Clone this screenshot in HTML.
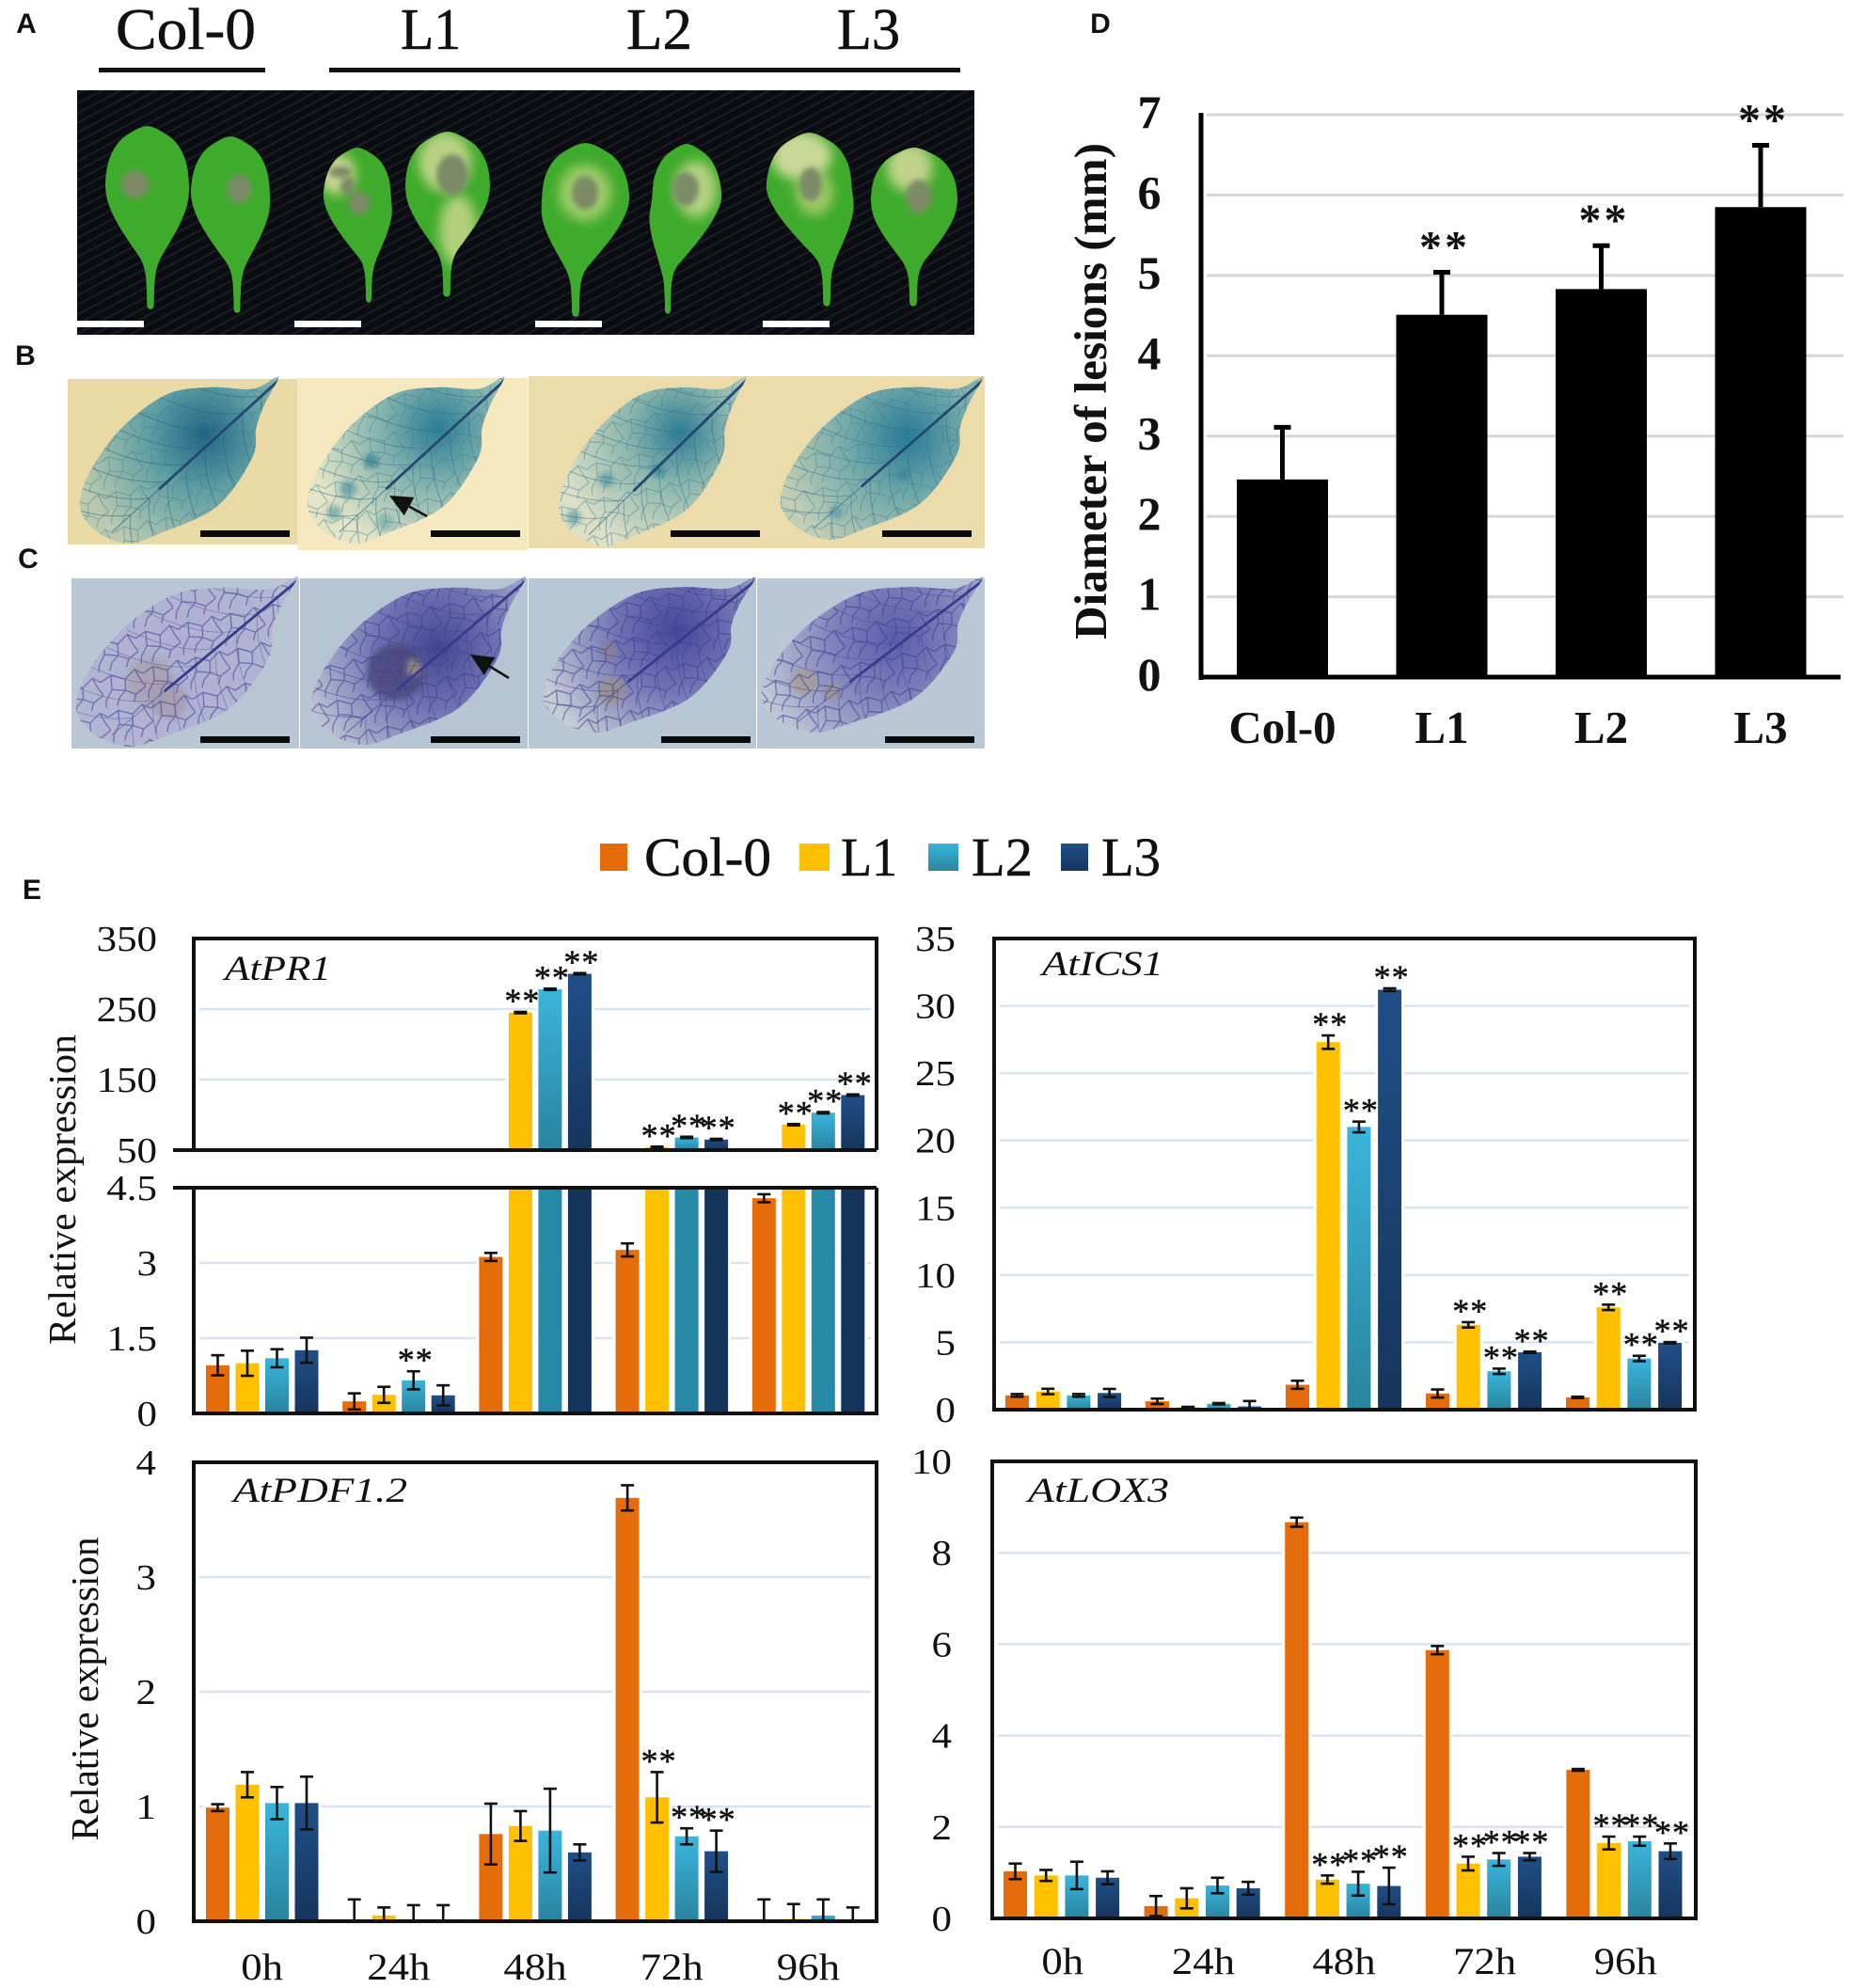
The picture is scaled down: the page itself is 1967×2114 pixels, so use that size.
<!DOCTYPE html>
<html lang="en">
<head>
<meta charset="utf-8">
<title>Lesions and defence gene expression in Col-0 and L1-L3</title>
<style>
html,body{margin:0;padding:0;background:#fff;}
svg{display:block;}
text{font-family:"Liberation Serif",serif;fill:#111;}
.sans{font-family:"Liberation Sans",sans-serif;font-weight:bold;}
</style>
</head>
<body>
<svg id="fig" xmlns="http://www.w3.org/2000/svg" width="1967" height="2114" viewBox="0 0 1967 2114">
  <defs>
    <linearGradient id="gradL2" x1="0" y1="0" x2="0" y2="1"><stop offset="0" stop-color="#3ab5dc"/><stop offset="1" stop-color="#29849d"/></linearGradient>
    <linearGradient id="gradL3" x1="0" y1="0" x2="0" y2="1"><stop offset="0" stop-color="#1f4f88"/><stop offset="1" stop-color="#16355c"/></linearGradient>
    <pattern id="cloth" width="9" height="9" patternUnits="userSpaceOnUse" patternTransform="rotate(-28)">
      <rect width="9" height="9" fill="#0a0c11"/><rect width="9" height="2" fill="#1a1d24"/>
    </pattern>
    <pattern id="netGus" width="46" height="38" patternUnits="userSpaceOnUse" patternTransform="rotate(-12)">
      <path d="M0 10L12 5L26 12L38 4L46 10M12 5L10 20L2 30L0 38M10 20L24 24L26 12M24 24L34 30L46 24M34 30L30 38M38 4L42 16L46 24M12 38L16 30L24 24" fill="none" stroke="#3d7f93" stroke-width="1" stroke-opacity=".5"/>
    </pattern>
    <pattern id="netNbt" width="46" height="38" patternUnits="userSpaceOnUse" patternTransform="rotate(-12)">
      <path d="M0 10L12 5L26 12L38 4L46 10M12 5L10 20L2 30L0 38M10 20L24 24L26 12M24 24L34 30L46 24M34 30L30 38M38 4L42 16L46 24M12 38L16 30L24 24" fill="none" stroke="#3c3f95" stroke-width="1.3" stroke-opacity=".6"/>
    </pattern>
    <filter id="blur6" x="-40%" y="-40%" width="180%" height="180%"><feGaussianBlur stdDeviation="6"/></filter>
    <filter id="blur3" x="-40%" y="-40%" width="180%" height="180%"><feGaussianBlur stdDeviation="3"/></filter>
  </defs>
  <g id="photos"></g>
  <g id="charts"></g>
</svg>
<script>
// ---------- chart data ----------
const timepoints = ['0h', '24h', '48h', '72h', '96h'];
const genotypes = ['Col-0', 'L1', 'L2', 'L3'];

const lesionDiameter = [2.46, 4.51, 4.83, 5.85];
const lesionError = [0.65, 0.53, 0.54, 0.77];
const lesionTicks = ['0', '1', '2', '3', '4', '5', '6', '7'];
const lesionStars = [1, 2, 3];

const pr1Col0 = [0.96, 0.24, 3.12, 3.26, 4.29];
const pr1L1 = [1.0, 0.37, 245, 54, 86];
const pr1L2 = [1.1, 0.66, 278, 68, 103];
const pr1L3 = [1.26, 0.36, 300, 65, 128];
const pr1Col0Err = [0.2, 0.16, 0.08, 0.13, 0.08];
const pr1L1Err = [0.25, 0.16, 1, 1, 1];
const pr1L2Err = [0.18, 0.18, 1, 1, 1];
const pr1L3Err = [0.25, 0.2, 1, 1, 1];
const pr1UpperTicks = ['50', '150', '250', '350'];
const pr1LowerTicks = ['0', '1.5', '3', '4.5'];
const pr1Stars = [[1, 2], [2, 1], [2, 2], [2, 3], [3, 1], [3, 2], [3, 3], [4, 1], [4, 2], [4, 3]];

const ics1Col0 = [1.06, 0.62, 1.85, 1.2, 0.91];
const ics1L1 = [1.35, 0.18, 27.3, 6.3, 7.6];
const ics1L2 = [1.06, 0.44, 21, 2.85, 3.8];
const ics1L3 = [1.24, 0.24, 31.2, 4.26, 4.97];
const ics1Col0Err = [0.1, 0.2, 0.3, 0.3, 0.05];
const ics1L1Err = [0.2, 0.03, 0.5, 0.2, 0.2];
const ics1L2Err = [0.1, 0.05, 0.4, 0.2, 0.2];
const ics1L3Err = [0.3, 0.4, 0.1, 0.05, 0.05];
const ics1Ticks = ['0', '5', '10', '15', '20', '25', '30', '35'];
const ics1Stars = [[2, 1], [2, 2], [2, 3], [3, 1], [3, 2], [3, 3], [4, 1], [4, 2], [4, 3]];

const pdfCol0 = [0.99, 0, 0.76, 3.69, 0];
const pdfL1 = [1.19, 0.05, 0.83, 1.08, 0.02];
const pdfL2 = [1.03, 0, 0.79, 0.74, 0.05];
const pdfL3 = [1.03, 0, 0.6, 0.61, 0];
const pdfCol0Err = [0.03, 0.19, 0.265, 0.11, 0.19];
const pdfL1Err = [0.11, 0.07, 0.13, 0.22, 0.13];
const pdfL2Err = [0.14, 0.14, 0.365, 0.07, 0.14];
const pdfL3Err = [0.23, 0.14, 0.07, 0.18, 0.12];
const pdfTicks = ['0', '1', '2', '3', '4'];
const pdfStars = [[3, 1], [3, 2], [3, 3]];

const loxCol0 = [1.03, 0.27, 8.67, 5.87, 3.25];
const loxL1 = [0.94, 0.44, 0.85, 1.2, 1.65];
const loxL2 = [0.94, 0.72, 0.76, 1.29, 1.69];
const loxL3 = [0.89, 0.66, 0.71, 1.35, 1.47];
const loxCol0Err = [0.17, 0.22, 0.1, 0.09, 0.02];
const loxL1Err = [0.12, 0.22, 0.09, 0.15, 0.14];
const loxL2Err = [0.3, 0.17, 0.26, 0.14, 0.1];
const loxL3Err = [0.14, 0.14, 0.4, 0.08, 0.17];
const loxTicks = ['0', '2', '4', '6', '8', '10'];
const loxStars = [[2, 1], [2, 2], [2, 3], [3, 1], [3, 2], [3, 3], [4, 1], [4, 2], [4, 3]];

// ---------- helpers ----------
const NS = 'http://www.w3.org/2000/svg';
const seriesFill = ['#e46c0a', '#ffc000', 'url(#gradL2)', 'url(#gradL3)'];
const GRID = '#d9e3f2';

function add(parent, tag, attrs, name, text) {
  const el = document.createElementNS(NS, tag);
  for (const k in attrs) el.setAttribute(k, attrs[k]);
  
  
  if (text !== undefined) el.textContent = text;
  parent.appendChild(el);
  return el;
}
function stretched(parent, x, y, stretch, size, anchor, str, name) {
  return add(parent, 'text', {transform: 'translate(' + x + ' ' + y + ') scale(' + stretch + ' 1)', 'font-size': size, 'text-anchor': anchor}, name, str);
}
function smooth(p) {
  let d = 'M' + p[0][0] + ' ' + p[0][1];
  const n = p.length;
  for (let i = 0; i < n; i++) {
    const a = p[(i - 1 + n) % n], b = p[i], c = p[(i + 1) % n], e = p[(i + 2) % n];
    d += 'C' + (b[0] + (c[0] - a[0]) / 6) + ' ' + (b[1] + (c[1] - a[1]) / 6) + ' ' + (c[0] - (e[0] - b[0]) / 6) + ' ' + (c[1] - (e[1] - b[1]) / 6) + ' ' + c[0] + ' ' + c[1];
  }
  return d + 'Z';
}

// ---------- photo panels ----------
const photos = document.getElementById('photos');
const defs = document.querySelector('defs');

function panelLetter(x, y, s) {
  add(photos, 'text', {x: x, y: y, 'font-size': 30, 'text-anchor': 'middle', 'class': 'sans'}, 'panel-label-' + s.toLowerCase(), s);
}
panelLetter(28, 35, 'A');
panelLetter(27, 388, 'B');
panelLetter(30, 604, 'C');
panelLetter(1170, 35, 'D');
panelLetter(34, 956, 'E');

function header(x, len, s) {
  add(photos, 'text', {x: x, y: 52, 'font-size': 62, textLength: len, lengthAdjust: 'spacingAndGlyphs', stroke: '#111', 'stroke-width': .6}, 'genotype-header-' + s.toLowerCase(), s);
}
header(123, 149, 'Col-0');
header(426, 64, 'L1');
header(666, 70, 'L2');
header(890, 67, 'L3');
add(photos, 'rect', {x: 105, y: 72, width: 177, height: 5, fill: '#111'}, 'col-0-underline');
add(photos, 'rect', {x: 350, y: 72, width: 671, height: 5, fill: '#111'}, 'transgenic-lines-underline');

add(photos, 'rect', {x: 82, y: 96, width: 954, height: 260, fill: 'url(#cloth)'}, 'panel-a-photo');
const leafProfile = [[0, 0], [.04, .42], [.1, .72], [.2, .93], [.33, 1], [.44, .93], [.55, .72], [.65, .46], [.74, .22], [.82, .12], [.92, .09], [1, .07]];
const leavesA = [
  {l: 112, r: 201, t: 134, b: 327, sx: 160, spots: []},
  {l: 203, r: 287, t: 145, b: 331, sx: 252, spots: []},
  {l: 344, r: 416, t: 157, b: 320, sx: 392, spots: [[358, 185, 20, 22, '#d5d99c']]},
  {l: 431, r: 521, t: 140, b: 314, sx: 475, spots: [[473, 172, 28, 32, '#c8d58f'], [487, 245, 20, 38, '#bfd486']]},
  {l: 576, r: 669, t: 152, b: 335, sx: 612, spots: [[622, 205, 28, 30, '#a9cf72']]},
  {l: 693, r: 767, t: 153, b: 332, sx: 710, spots: [[740, 201, 22, 30, '#c2d58a']]},
  {l: 815, r: 906, t: 141, b: 324, sx: 879, spots: [[852, 166, 32, 26, '#dbdea5'], [866, 205, 20, 24, '#a9cc70']]},
  {l: 926, r: 1018, t: 157, b: 324, sx: 971, spots: [[967, 178, 24, 26, '#cfd896']]}
];
const lesionsA = [
  [[144, 196, 15, 15]], [[254, 201, 13, 15]], [[362, 183, 12, 6], [370, 198, 8, 10], [382, 216, 12, 12]],
  [[481, 186, 17, 22]], [[622, 205, 14, 18]], [[729, 201, 14, 18]], [[862, 196, 12, 18]], [[977, 209, 14, 18]]
];
leavesA.forEach(function (f, i) {
  const mid = (f.l + f.r) / 2, half = (f.r - f.l) / 2, H = f.b - f.t;
  const centre = function (fr) { return fr < .33 ? mid : mid + (f.sx - mid) * Math.min(1, (fr - .33) / .42); };
  const right = leafProfile.map(function (p) { return [centre(p[0]) + p[1] * half, f.t + p[0] * H]; });
  const left = leafProfile.slice(1).reverse().map(function (p) { return [centre(p[0]) - p[1] * half, f.t + p[0] * H]; });
  const d = smooth(right.concat(left));
  const clip = document.createElementNS(NS, 'clipPath');
  clip.setAttribute('id', 'clipA' + i);
  const cp = document.createElementNS(NS, 'path');
  cp.setAttribute('d', d);
  clip.appendChild(cp);
  defs.appendChild(clip);
  const g = add(photos, 'g', {'clip-path': 'url(#clipA' + i + ')'}, 'infected-leaf-' + (i + 1));
  add(g, 'path', {d: d, fill: '#3fab2c'}, 'leaf-blade');
  f.spots.forEach(function (s) {
    add(g, 'ellipse', {cx: s[0], cy: s[1], rx: s[2], ry: s[3], fill: s[4], filter: 'url(#blur6)', opacity: .9}, 'chlorotic-patch');
  });
  lesionsA[i].forEach(function (s) {
    add(g, 'ellipse', {cx: s[0], cy: s[1], rx: s[2], ry: s[3], fill: '#7b8a66', filter: 'url(#blur3)'}, 'lesion');
  });
});
[[82, 341], [313, 341], [569, 341], [811, 341]].forEach(function (p) {
  add(photos, 'rect', {x: p[0], y: p[1], width: 71, height: 7, fill: '#fff'}, 'scale-bar-a');
});

add(photos, 'rect', {x: 72, y: 403, width: 244, height: 176, fill: '#e9daa6'}, 'panel-b-photo-1');
add(photos, 'rect', {x: 316, y: 402, width: 245, height: 183, fill: '#f6e9c0'}, 'panel-b-photo-2');
add(photos, 'rect', {x: 562, y: 400, width: 485, height: 183, fill: '#ecdcab'}, 'panel-b-photo-3');
add(photos, 'rect', {x: 76, y: 615, width: 242, height: 181, fill: '#b9c7d4'}, 'panel-c-photo-1');
add(photos, 'rect', {x: 319, y: 615, width: 242, height: 181, fill: '#b6c5d3'}, 'panel-c-photo-2');
add(photos, 'rect', {x: 562, y: 615, width: 242, height: 181, fill: '#b8c7d4'}, 'panel-c-photo-3');
add(photos, 'rect', {x: 805, y: 615, width: 242, height: 181, fill: '#bac8d5'}, 'panel-c-photo-4');

const outline = [[.99, 0], [.92, .16], [.88, .3], [.86, .48], [.683, .776], [.397, .94], [.238, 1], [.08, .925], [0, .776], [.048, .567], [.206, .3], [.43, .095], [.65, .05], [.86, .06], [.97, -.005]];
const stainedLeaves = [
  {x: 85, y: 403, w: 213, h: 175, cx: .62, cy: .34, core: '#1f6484', mid: '#5f9ea3', outer: '#bccbb0', vein: '#2a5f80', n: 'gus', net: 'url(#netGus)', blobs: []},
  {x: 327, y: 403, w: 211, h: 175, cx: .66, cy: .3, core: '#2a7d95', mid: '#7fb0ac', outer: '#e3e5c6', vein: '#2f6f8d', n: 'gus', net: 'url(#netGus)', blobs: [[370, 520, 9, '#5c9ba5'], [355, 545, 8, '#6da5a8'], [395, 490, 8, '#3b8399'], [410, 555, 9, '#7fb0ac']]},
  {x: 594, y: 403, w: 201, h: 178, cx: .64, cy: .32, core: '#2d7c94', mid: '#8cb6ad', outer: '#dde0c6', vein: '#2f6f8d', n: 'gus', net: 'url(#netGus)', blobs: [[645, 510, 8, '#5c9ba5'], [610, 550, 8, '#6da5a8'], [700, 500, 7, '#3b8399']]},
  {x: 830, y: 403, w: 217, h: 171, cx: .62, cy: .36, core: '#277a96', mid: '#6fa7a9', outer: '#c3cfb5', vein: '#2f6f8d', n: 'gus', net: 'url(#netGus)', blobs: [[890, 545, 7, '#5c9ba5'], [960, 505, 6, '#3b8399']]},
  {x: 81, y: 616, w: 237, h: 178, cx: .5, cy: .5, core: '#aeb0d2', mid: '#b0b3d2', outer: '#b4b9d2', vein: '#5d5fa9', n: 'nbt', net: 'url(#netNbt)', blobs: [[160, 725, 26, '#a9a1b0'], [180, 745, 20, '#a59cac']]},
  {x: 331, y: 616, w: 230, h: 176, cx: .58, cy: .42, core: '#42468f', mid: '#6e72b2', outer: '#c2c8d4', vein: '#3f4396', n: 'nbt', net: 'url(#netNbt)', blobs: [[420, 715, 30, '#4a4678'], [440, 710, 9, '#a2917f']]},
  {x: 578, y: 616, w: 227, h: 163, cx: .62, cy: .33, core: '#44479a', mid: '#6f73b3', outer: '#c6ccd4', vein: '#3f4396', n: 'nbt', net: 'url(#netNbt)', blobs: [[650, 735, 14, '#9c8f85'], [647, 693, 9, '#8d7f8e']]},
  {x: 810, y: 616, w: 237, h: 163, cx: .6, cy: .38, core: '#585ca8', mid: '#7d82bb', outer: '#c6ccd6', vein: '#474b9c', n: 'nbt', net: 'url(#netNbt)', blobs: [[855, 725, 14, '#a89c90'], [885, 735, 9, '#a0948e']]}
];
stainedLeaves.forEach(function (f, i) {
  const pts = outline.map(function (p) { return [f.x + p[0] * f.w, f.y + p[1] * f.h]; });
  const d = smooth(pts);
  const grad = document.createElementNS(NS, 'radialGradient');
  grad.setAttribute('id', 'stain' + i);
  grad.setAttribute('gradientUnits', 'userSpaceOnUse');
  grad.setAttribute('cx', f.x + f.cx * f.w);
  grad.setAttribute('cy', f.y + f.cy * f.h);
  grad.setAttribute('r', f.w * 0.66);
  [[0, f.core], [0.42, f.mid], [1, f.outer]].forEach(function (s) {
    const st = document.createElementNS(NS, 'stop');
    st.setAttribute('offset', s[0]);
    st.setAttribute('stop-color', s[1]);
    grad.appendChild(st);
  });
  defs.appendChild(grad);
  const clip = document.createElementNS(NS, 'clipPath');
  clip.setAttribute('id', 'clipS' + i);
  const cp = document.createElementNS(NS, 'path');
  cp.setAttribute('d', d);
  clip.appendChild(cp);
  defs.appendChild(clip);
  const g = add(photos, 'g', {'clip-path': 'url(#clipS' + i + ')'}, f.n + '-stained-leaf-' + (i % 4 + 1));
  add(g, 'path', {d: d, fill: 'url(#stain' + i + ')'}, 'leaf-blade');
  f.blobs.forEach(function (b) {
    add(g, 'circle', {cx: b[0], cy: b[1], r: b[2], fill: b[3], filter: 'url(#blur3)', opacity: .8}, 'stain-blotch');
  });
  add(g, 'path', {d: d, fill: f.net}, 'vein-network');
  const sx = f.x + f.w, sy = f.y, ex = f.x + 0.16 * f.w, ey = f.y + 0.93 * f.h;
  for (let k = 1; k < 9; k++) {
    const t = k / 9, px = sx + (ex - sx) * t, py = sy + (ey - sy) * t;
    add(g, 'path', {d: 'M' + px + ' ' + py + 'Q' + (px - 40) + ' ' + (py + 6) + ' ' + (px - 95) + ' ' + (py - 20), stroke: f.vein, 'stroke-width': 1, 'stroke-opacity': .5, fill: 'none'}, 'side-vein');
    add(g, 'path', {d: 'M' + px + ' ' + py + 'Q' + (px - 4) + ' ' + (py + 40) + ' ' + (px + 28) + ' ' + (py + 95), stroke: f.vein, 'stroke-width': 1, 'stroke-opacity': .5, fill: 'none'}, 'side-vein');
  }
  const mt = 0.72;
  add(g, 'line', {x1: sx, y1: sy, x2: sx + (ex - sx) * mt, y2: sy + (ey - sy) * mt, stroke: f.n === 'gus' ? '#25476f' : '#383a8c', 'stroke-width': 2.8}, 'midrib');
  add(g, 'line', {x1: sx + (ex - sx) * mt, y1: sy + (ey - sy) * mt, x2: ex, y2: ey, stroke: f.vein, 'stroke-width': 1.2, 'stroke-opacity': .6}, 'midrib-tip');
});
[[213, 564], [458, 564], [713, 564], [938, 564], [213, 783], [458, 783], [703, 783], [941, 783]].forEach(function (p) {
  add(photos, 'rect', {x: p[0], y: p[1], width: 95, height: 7, fill: '#0a0a0a'}, 'scale-bar');
});
function arrow(x1, y1, x2, y2, name) {
  const a = Math.atan2(y2 - y1, x2 - x1), h = 24;
  const bx = x2 - Math.cos(a) * h, by = y2 - Math.sin(a) * h, nx = -Math.sin(a) * 11, ny = Math.cos(a) * 11;
  const g = add(photos, 'g', {}, name);
  add(g, 'line', {x1: x1, y1: y1, x2: bx, y2: by, stroke: '#111', 'stroke-width': 2.5}, 'arrow-shaft');
  add(g, 'path', {d: 'M' + x2 + ' ' + y2 + 'L' + (bx + nx) + ' ' + (by + ny) + 'L' + (bx - nx) + ' ' + (by - ny) + 'Z', fill: '#111'}, 'arrow-head');
}
arrow(454, 549, 414, 527, 'panel-b-arrow');
arrow(541, 721, 500, 696, 'panel-c-arrow');

// ---------- panel D ----------
const charts = document.getElementById('charts');
const D = {left: 1277, right: 1957, top: 122, bottom: 720, max: 7, barStart: 1315, barW: 97, step: 169.5};
const dY = function (v) { return D.bottom - v / D.max * (D.bottom - D.top); };
const dX = function (i) { return D.barStart + i * D.step; };
const gD = add(charts, 'g', {}, 'lesion-diameter-chart');
lesionTicks.forEach(function (t) {
  const v = Number(t);
  if (v > 0) add(gD, 'line', {x1: D.left + 6, x2: 1960, y1: dY(v), y2: dY(v), stroke: '#d6d6d6', 'stroke-width': 3}, 'gridline-' + t);
  add(gD, 'text', {x: 1222, y: dY(v) + 14, 'font-size': 50, 'font-weight': 'bold', 'text-anchor': 'middle'}, 'y-tick-label-' + t, t);
});
genotypes.forEach(function (n, i) {
  const cx = dX(i) + D.barW / 2;
  add(gD, 'rect', {x: dX(i), y: dY(lesionDiameter[i]), width: D.barW, height: D.bottom - dY(lesionDiameter[i]), fill: '#000'}, 'bar-' + n.toLowerCase());
  const top = dY(lesionDiameter[i] + lesionError[i]);
  add(gD, 'line', {x1: cx, x2: cx, y1: top, y2: dY(lesionDiameter[i]), stroke: '#000', 'stroke-width': 5}, 'error-bar-' + n.toLowerCase());
  add(gD, 'line', {x1: cx - 9, x2: cx + 9, y1: top, y2: top, stroke: '#000', 'stroke-width': 5}, 'error-cap-' + n.toLowerCase());
  add(gD, 'text', {x: cx, y: 790, 'font-size': 49, 'font-weight': 'bold', 'text-anchor': 'middle'}, 'x-label-' + n.toLowerCase(), n);
  if (lesionStars.indexOf(i) >= 0) {
    add(gD, 'text', {x: cx + 3, y: top - 11, 'font-size': 48, 'font-weight': 'bold', 'text-anchor': 'middle', 'letter-spacing': 3}, 'significance-' + n.toLowerCase(), '**');
  }
});
add(gD, 'line', {x1: D.left, x2: D.left, y1: D.top - 2, y2: D.bottom + 3, stroke: '#000', 'stroke-width': 5}, 'y-axis');
add(gD, 'line', {x1: D.left - 2, x2: D.right, y1: D.bottom, y2: D.bottom, stroke: '#000', 'stroke-width': 5}, 'x-axis');
add(gD, 'text', {transform: 'translate(1176 416) rotate(-90)', 'font-size': 49, 'font-weight': 'bold', 'text-anchor': 'middle', textLength: 528, lengthAdjust: 'spacingAndGlyphs', x: 0, y: 0}, 'y-axis-title', 'Diameter of lesions (mm)');

// ---------- legend ----------
const legendG = add(charts, 'g', {}, 'legend');
[[638, 29, 685, 135], [850, 32, 894, 60], [987, 32, 1033, 65], [1128, 29, 1171, 63]].forEach(function (p, i) {
  add(legendG, 'rect', {x: p[0], y: 897, width: p[1], height: 29, fill: seriesFill[i]}, 'legend-swatch-' + genotypes[i].toLowerCase());
  add(legendG, 'text', {x: p[2], y: 931, 'font-size': 58, textLength: p[3], lengthAdjust: 'spacingAndGlyphs', stroke: '#111', 'stroke-width': .5}, 'legend-label-' + genotypes[i].toLowerCase(), genotypes[i]);
});

// ---------- panel E ----------
function layout(left, right, pad, step, barW) {
  return {left: left, right: right, pad: pad, step: step, barW: barW, band: (right - left) / 5};
}
function barX(L, g, s) { return L.left + L.band * g + L.pad + s * L.step; }
function drawBar(g, L, gi, si, top, bottom, fill, name) {
  const x = barX(L, gi, si);
  add(g, 'rect', {x: x - 3, y: top - 3, width: L.barW + 6, height: bottom - top + 3, fill: '#fff'}, name + '-halo');
  add(g, 'rect', {x: x, y: top, width: L.barW, height: bottom - top, fill: fill}, name);
}
function drawErr(g, L, gi, si, yHi, yLo, name) {
  const cx = barX(L, gi, si) + L.barW / 2;
  add(g, 'line', {x1: cx, x2: cx, y1: yHi, y2: yLo, stroke: '#111', 'stroke-width': 2.6}, name);
  add(g, 'line', {x1: cx - 7, x2: cx + 7, y1: yHi, y2: yHi, stroke: '#111', 'stroke-width': 2.6}, name + '-top-cap');
  add(g, 'line', {x1: cx - 7, x2: cx + 7, y1: yLo, y2: yLo, stroke: '#111', 'stroke-width': 2.6}, name + '-bottom-cap');
}
function drawStar(g, L, gi, si, y, name) {
  add(g, 'text', {x: barX(L, gi, si) + L.barW / 2 + 2, y: y + 16, 'font-size': 36, 'text-anchor': 'middle', 'letter-spacing': 1, stroke: '#111', 'stroke-width': .5}, name, '**');
}
function frame(g, L, top, bottom, name) {
  add(g, 'rect', {x: L.left, y: top, width: L.right - L.left, height: bottom - top, fill: 'none', stroke: '#111', 'stroke-width': 4}, name);
}
function xLabels(g, L, y) {
  timepoints.forEach(function (t, i) {
    stretched(g, L.left + L.band * (i + .5), y, 1.12, 40, 'middle', t, 'x-label-' + t);
  });
}

function simpleChart(opt) {
  const g = add(charts, 'g', {}, opt.name);
  const L = opt.L;
  const y = function (v) { return opt.bottom - v / opt.max * (opt.bottom - opt.top); };
  opt.ticks.forEach(function (t) {
    const v = Number(t);
    if (v > 0 && v < opt.max) add(g, 'line', {x1: L.left + 6, x2: L.right - 6, y1: y(v), y2: y(v), stroke: GRID, 'stroke-width': 2.5}, 'gridline-' + t);
    stretched(g, opt.tickX, y(v) + 13, 1.13, 38, 'end', t, 'y-tick-label-' + t);
  });
  opt.series.forEach(function (vals, s) {
    vals.forEach(function (v, i) {
      drawBar(g, L, i, s, y(v), opt.bottom, seriesFill[s], 'bar-' + genotypes[s].toLowerCase() + '-' + timepoints[i]);
    });
  });
  opt.series.forEach(function (vals, s) {
    vals.forEach(function (v, i) {
      const e = opt.errs[s][i];
      drawErr(g, L, i, s, y(v + e), y(Math.max(0, v - e)), 'error-bar-' + genotypes[s].toLowerCase() + '-' + timepoints[i]);
    });
  });
  frame(g, L, opt.top, opt.bottom, 'plot-frame');
  opt.stars.forEach(function (st) {
    const v = opt.series[st[1]][st[0]], e = opt.errs[st[1]][st[0]];
    drawStar(g, L, st[0], st[1], y(v + e) - 16, 'significance-' + genotypes[st[1]].toLowerCase() + '-' + timepoints[st[0]]);
  });
  add(g, 'text', {x: opt.geneX, y: opt.geneY, 'font-size': 37, 'font-style': 'italic', textLength: opt.geneLen, lengthAdjust: 'spacingAndGlyphs'}, 'gene-label', opt.gene);
  if (opt.labelY) xLabels(g, L, opt.labelY);
  if (opt.titleX) add(g, 'text', {transform: 'translate(' + opt.titleX + ' ' + opt.titleY + ') rotate(-90)', x: 0, y: 0, 'font-size': 41, 'text-anchor': 'middle', textLength: opt.titleLen, lengthAdjust: 'spacingAndGlyphs'}, 'y-axis-title', 'Relative expression');
}

// AtPR1 has a broken axis, drawn as two stacked plots.
(function () {
  const g = add(charts, 'g', {}, 'atpr1-chart');
  const L = layout(206, 932, 13, 31.5, 25);
  const upTop = 998, upBottom = 1223, lowTop = 1263, lowBottom = 1503;
  const yUp = function (v) { return upBottom - (v - 50) / 300 * (upBottom - upTop); };
  const yLow = function (v) { return lowBottom - v / 4.5 * (lowBottom - lowTop); };
  const series = [pr1Col0, pr1L1, pr1L2, pr1L3];
  const errs = [pr1Col0Err, pr1L1Err, pr1L2Err, pr1L3Err];
  const lowFill = ['#e46c0a', '#ffc000', '#268aa6', '#14345c'];
  pr1UpperTicks.forEach(function (t) {
    const v = Number(t);
    if (v > 50 && v < 350) add(g, 'line', {x1: L.left + 6, x2: L.right - 6, y1: yUp(v), y2: yUp(v), stroke: GRID, 'stroke-width': 2.5}, 'gridline-' + t);
    stretched(g, 167, yUp(v) + 13, 1.13, 38, 'end', t, 'y-tick-label-' + t);
  });
  pr1LowerTicks.forEach(function (t) {
    const v = Number(t);
    if (v > 0 && v < 4.5) add(g, 'line', {x1: L.left + 6, x2: L.right - 6, y1: yLow(v), y2: yLow(v), stroke: GRID, 'stroke-width': 2.5}, 'gridline-' + t);
    stretched(g, 167, yLow(v) + 13, 1.13, 38, 'end', t, 'y-tick-label-' + t);
  });
  series.forEach(function (vals, s) {
    vals.forEach(function (v, i) {
      const base = 'bar-' + genotypes[s].toLowerCase() + '-' + timepoints[i];
      if (v > 4.5) {
        drawBar(g, L, i, s, lowTop, lowBottom, lowFill[s], base + '-lower');
        drawBar(g, L, i, s, yUp(v), upBottom, seriesFill[s], base + '-upper');
      } else {
        drawBar(g, L, i, s, yLow(v), lowBottom, seriesFill[s], base);
      }
    });
  });
  series.forEach(function (vals, s) {
    vals.forEach(function (v, i) {
      const e = errs[s][i];
      const y = v > 4.5 ? yUp : yLow;
      drawErr(g, L, i, s, y(v + e), y(Math.max(0, v - e)), 'error-bar-' + genotypes[s].toLowerCase() + '-' + timepoints[i]);
    });
  });
  add(g, 'path', {d: 'M' + L.left + ' ' + upBottom + 'V' + upTop + 'H' + L.right + 'V' + upBottom, fill: 'none', stroke: '#111', 'stroke-width': 4}, 'upper-frame');
  add(g, 'line', {x1: 184, x2: L.right, y1: upBottom, y2: upBottom, stroke: '#111', 'stroke-width': 4}, 'upper-axis-break-line');
  add(g, 'path', {d: 'M' + L.left + ' ' + lowTop + 'V' + lowBottom + 'H' + L.right + 'V' + lowTop, fill: 'none', stroke: '#111', 'stroke-width': 4}, 'lower-frame');
  add(g, 'line', {x1: 184, x2: L.right, y1: lowTop, y2: lowTop, stroke: '#111', 'stroke-width': 4}, 'lower-axis-break-line');
  pr1Stars.forEach(function (st) {
    const v = series[st[1]][st[0]], e = errs[st[1]][st[0]];
    const y = v > 4.5 ? yUp : yLow;
    drawStar(g, L, st[0], st[1], y(v + e) - 16, 'significance-' + genotypes[st[1]].toLowerCase() + '-' + timepoints[st[0]]);
  });
  add(g, 'text', {x: 239, y: 1042, 'font-size': 37, 'font-style': 'italic', textLength: 113, lengthAdjust: 'spacingAndGlyphs'}, 'gene-label', 'AtPR1');
  add(g, 'text', {transform: 'translate(80 1265) rotate(-90)', x: 0, y: 0, 'font-size': 41, 'text-anchor': 'middle', textLength: 330, lengthAdjust: 'spacingAndGlyphs'}, 'y-axis-title', 'Relative expression');
})();

simpleChart({
  name: 'atics1-chart', gene: 'AtICS1', geneX: 1108, geneY: 1037, geneLen: 129,
  L: layout(1057, 1802, 12, 32.7, 25), top: 998, bottom: 1499, max: 35, ticks: ics1Ticks, tickX: 1016,
  series: [ics1Col0, ics1L1, ics1L2, ics1L3], errs: [ics1Col0Err, ics1L1Err, ics1L2Err, ics1L3Err], stars: ics1Stars
});
simpleChart({
  name: 'atpdf1-2-chart', gene: 'AtPDF1.2', geneX: 248, geneY: 1597, geneLen: 185,
  L: layout(206, 932, 13, 31.5, 25), top: 1555, bottom: 2043, max: 4, ticks: pdfTicks, tickX: 166,
  series: [pdfCol0, pdfL1, pdfL2, pdfL3], errs: [pdfCol0Err, pdfL1Err, pdfL2Err, pdfL3Err], stars: pdfStars,
  labelY: 2105, titleX: 104, titleY: 1796, titleLen: 323
});
simpleChart({
  name: 'atlox3-chart', gene: 'AtLOX3', geneX: 1093, geneY: 1597, geneLen: 150,
  L: layout(1055, 1803, 12, 32.7, 25), top: 1554, bottom: 2040, max: 10, ticks: loxTicks, tickX: 1012,
  series: [loxCol0, loxL1, loxL2, loxL3], errs: [loxCol0Err, loxL1Err, loxL2Err, loxL3Err], stars: loxStars,
  labelY: 2099
});
</script>
</body>
</html>
